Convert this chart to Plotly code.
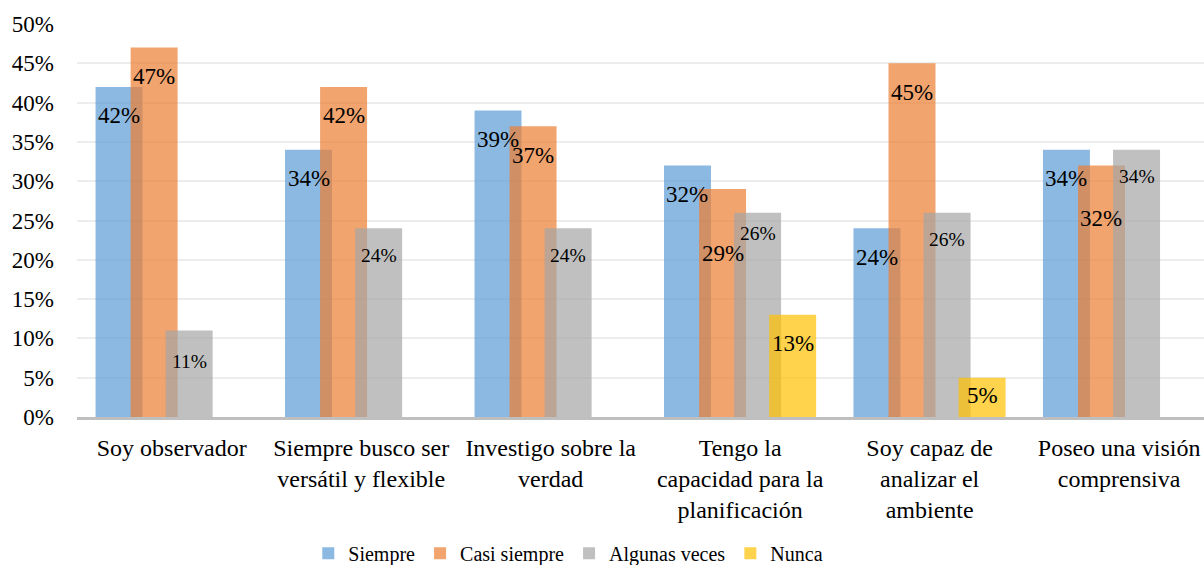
import plotly.graph_objects as go

# ---- data ----
categories = [
    "Soy observador",
    "Siempre busco ser<br>versátil y flexible",
    "Investigo sobre la<br>verdad",
    "Tengo la<br>capacidad para la<br>planificación",
    "Soy capaz de<br>analizar el<br>ambiente",
    "Poseo una visión<br>comprensiva",
]
series_names = ["Siempre", "Casi siempre", "Algunas veces", "Nunca"]
siempre       = [42, 34, 39, 32, 24, 34]
casi_siempre  = [47, 42, 37, 29, 45, 32]
algunas_veces = [11, 24, 24, 26, 26, 34]
nunca         = [0, 0, 0, 13, 5, 0]
y_ticks = [0, 5, 10, 15, 20, 25, 30, 35, 40, 45, 50]

# ---- style ----
_SERIF = "Liberation Serif, Times New Roman, serif"
_COLORS = ["rgba(91,155,213,0.7)", "rgba(237,125,49,0.7)",
           "rgba(165,165,165,0.7)", "rgba(255,192,0,0.7)"]
_W = 0.248             # bar width (category units)
_STEP = 0.185          # overlapping offset between series
_START = -0.402
_LBL_SIZE = [23, 23, 19.5, 23]
_LBL_SHIFT = [-29, -29, -27, -29]
# hand nudges for labels Excel moved to avoid overlaps: (series, category) -> yshift
_NUDGE = {(1, 3): -64, (1, 5): -53, (3, 4): -18, (2, 3): -21, (2, 0): -31}

values = [siempre, casi_siempre, algunas_veces, nunca]
xs = list(range(len(categories)))

fig = go.Figure()
annotations = []
for s, (name, vals, col) in enumerate(zip(series_names, values, _COLORS)):
    off = _START + s * _STEP
    fig.add_trace(go.Bar(
        x=xs, y=vals, name=name, offset=off, width=_W,
        marker=dict(color=col, line=dict(width=0)),
        hovertemplate=f"{name}: %{{y}}%<extra></extra>",
    ))
    for i, v in enumerate(vals):
        if v <= 0:
            continue
        annotations.append(dict(
            x=i + off + _W / 2, y=v, xref="x", yref="y",
            text=f"{v}%", showarrow=False, yanchor="middle",
            yshift=_NUDGE.get((s, i), _LBL_SHIFT[s]),
            font=dict(family=_SERIF, size=_LBL_SIZE[s], color="#000"),
        ))

fig.update_layout(
    barmode="overlay",
    width=1204, height=565,
    paper_bgcolor="#fff", plot_bgcolor="#fff",
    font=dict(family=_SERIF, color="#000", size=23),
    margin=dict(l=77, r=0, t=24, b=148),
    annotations=annotations,
    showlegend=True,
    legend=dict(orientation="h", xref="container", yref="container",
                x=0.472, xanchor="center", y=0.021, yanchor="middle",
                font=dict(family=_SERIF, size=20), traceorder="normal"),
    xaxis=dict(
        range=[-0.5, 5.448], tickmode="array", tickvals=xs, ticktext=categories,
        tickfont=dict(family=_SERIF, size=24), showgrid=False, zeroline=False,
        showline=True, linecolor="#BFBFBF", linewidth=2.5, ticks="",
        ticklabelstandoff=7,
    ),
    yaxis=dict(
        range=[0, 50], tickmode="array", tickvals=y_ticks,
        ticktext=[f"{t}%" for t in y_ticks],
        tickfont=dict(family=_SERIF, size=23), showgrid=True,
        gridcolor="#EDEDED", gridwidth=1.5, zeroline=False, showline=False,
        ticks="", ticklabelstandoff=22,
    ),
)

# page body has an 8px default margin; drop it so the figure sits at 0,0
fig.write_html("out.html", config={"displayModeBar": False},
               post_script="document.body.style.margin='0';")
